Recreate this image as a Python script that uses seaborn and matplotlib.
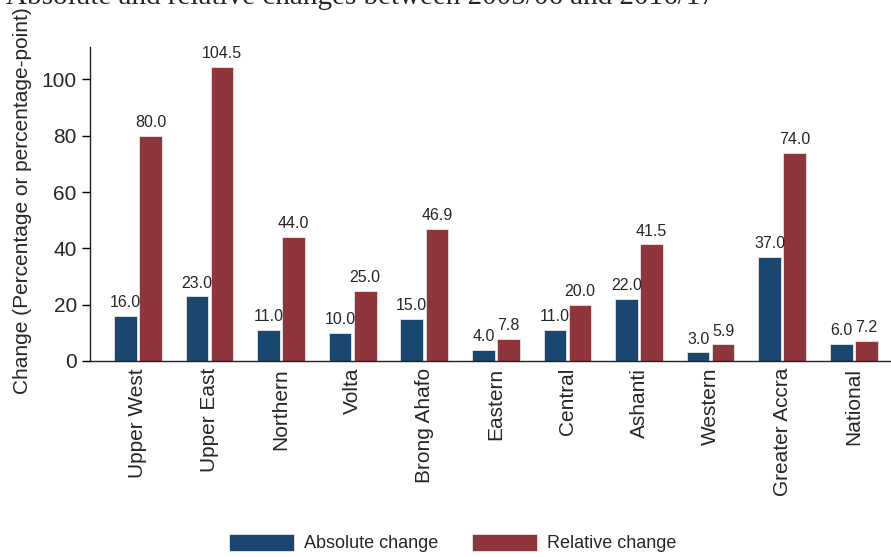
import pandas as pd
import seaborn as sns
import matplotlib.pyplot as plt

regions = ['Upper West', 'Upper East', 'Northern', 'Volta', 'Brong Ahafo', 'Eastern',
           'Central', 'Ashanti', 'Western', 'Greater Accra', 'National']
absolute = [16.0, 23.0, 11.0, 10.0, 15.0, 4.0, 11.0, 22.0, 3.0, 37.0, 6.0]
relative = [80.0, 104.5, 44.0, 25.0, 46.9, 7.8, 20.0, 41.5, 5.9, 74.0, 7.2]
series = ['Absolute change', 'Relative change']
colors = ['#1a476f', '#90353b']

df = pd.DataFrame({
    'region': regions * 2,
    'value': absolute + relative,
    'measure': [series[0]] * len(regions) + [series[1]] * len(regions),
})

sns.set_theme(style='white')
plt.rcParams['font.family'] = ['Liberation Sans', 'DejaVu Sans']

fig, ax = plt.subplots(figsize=(8.91, 5.57), dpi=100)
fig.subplots_adjust(left=0.101, right=1.0, bottom=0.352, top=0.9156)

sns.barplot(data=df, x='region', y='value', hue='measure', palette=colors,
            saturation=1, width=0.7, gap=0.1, edgecolor='#e6e6e6', linewidth=0.6, ax=ax)

for cont in ax.containers:
    ax.bar_label(cont, fmt='%.1f', padding=4, fontsize=11.5)

ax.set_xlim(-0.67, 10.52)
ax.set_ylim(0, 111.5)
ax.set_yticks([0, 20, 40, 60, 80, 100])
ax.set_xlabel('')
ax.set_ylabel('Change (Percentage or percentage-point)', fontsize=15)
ax.yaxis.set_label_coords(-0.073, 0.51)

ax.tick_params(axis='y', labelsize=15, length=6, width=1, pad=3.5, left=True, color='black')
ax.tick_params(axis='x', labelsize=15, length=0, pad=5, rotation=90)
for lbl in ax.get_xticklabels():
    lbl.set_va('top')

sns.despine(ax=ax)
for s in ['left', 'bottom']:
    ax.spines[s].set_color('#222222')
    ax.spines[s].set_linewidth(1.0)

handles, labels = ax.get_legend_handles_labels()
ax.get_legend().remove()
fig.legend(handles, labels, loc='center', bbox_to_anchor=(0.508, 0.025), ncol=2,
           frameon=False, fontsize=13, handlelength=3.6, handleheight=1.1,
           handletextpad=0.55, columnspacing=1.9)

# title line that is cut off at the top edge of the picture, as in the source
fig.text(715 / 891, 1 - 4 / 557, 'Absolute and relative changes between 2005/06 and 2016/17',
         ha='right', va='baseline', fontsize=21, family=['Liberation Serif', 'DejaVu Serif'])

fig.savefig('out.png', dpi=100)
